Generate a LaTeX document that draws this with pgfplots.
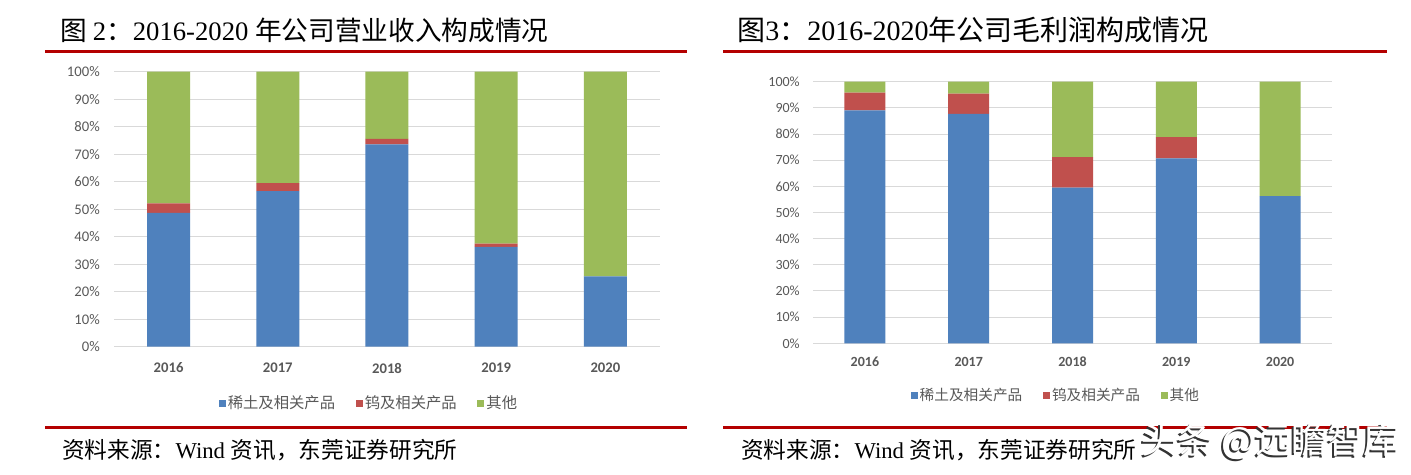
\documentclass[border=0pt]{standalone}
\usepackage{pgfplots}
\pgfplotsset{compat=1.18}
\usepackage{fontspec}
\setmainfont{Liberation Serif}
\newfontfamily\cjk{Noto Sans CJK SC}
\newfontfamily\calfont{Carlito}
\definecolor{cblue}{HTML}{4F81BD}
\definecolor{cred}{HTML}{C0504D}
\definecolor{cgreen}{HTML}{9BBB59}
\definecolor{lbl}{HTML}{595959}
\definecolor{grd}{HTML}{D9D9D9}
\definecolor{dred}{HTML}{B40000}
\pgfplotsset{
  common/.style={
    scale only axis, anchor=south west,
    ybar stacked,
    xmin=-0.5, xmax=4.5, ymin=0, ymax=100,
    enlargelimits=false,
    xtick={0,1,2,3,4}, xticklabels={2016,2017,2018,2019,2020},
    ytick={0,10,20,30,40,50,60,70,80,90,100},
    yticklabels={0\%,10\%,20\%,30\%,40\%,50\%,60\%,70\%,80\%,90\%,100\%},
    axis line style={draw=none}, major tick length=0pt,
    ymajorgrids, grid style={grd, line width=0.75pt},
    legend columns=3,
    legend image code/.code={\fill[##1,draw=none] (0pt,-2.6pt) rectangle (5.25pt,2.6pt);},
  }
}
\begin{document}
\begin{tikzpicture}[x=0.75pt,y=0.75pt]
\fill[white] (0,0) rectangle (1411,475);
% titles
\node[anchor=west, inner sep=0pt] at (60,445) {\fontsize{20pt}{20pt}\selectfont\cjk 图\ \rmfamily 2\cjk ：\rmfamily 2016-2020 \cjk 年公司营业收入构成情况};
\node[anchor=west, inner sep=0pt] at (737,445) {\fontsize{21pt}{21pt}\selectfont\cjk 图\rmfamily 3\cjk ：\rmfamily 2016-2020\cjk 年公司毛利润构成情况};
\draw[dred, line width=2.25pt] (45,423) -- (687,423);
\draw[dred, line width=2.25pt] (723,423) -- (1387,423);
\draw[dred, line width=2.25pt] (45,47) -- (687,47);
\draw[dred, line width=2.25pt] (723,47) -- (1387,47);
\node[anchor=west, inner sep=0pt] at (62,25) {\fontsize{17pt}{17pt}\selectfont\cjk 资料来源：\rmfamily Wind \cjk 资讯，东莞证券研究所};
\node[anchor=west, inner sep=0pt] at (741,25) {\fontsize{17pt}{17pt}\selectfont\cjk 资料来源：\rmfamily Wind \cjk 资讯，东莞证券研究所};

\begin{axis}[common,
  at={(85.5pt,96.225pt)},
  width=409.5pt, height=206.25pt,
  bar width=32.25pt,
  yticklabel style={font=\fontsize{11pt}{11pt}\selectfont\calfont, text=lbl, anchor=east, inner sep=0pt, xshift=-10.5pt},
  xticklabel style={font=\fontsize{11pt}{11pt}\selectfont\calfont\bfseries, text=lbl, anchor=north, inner sep=0pt, yshift=-12pt},
  legend style={draw=none, at={(0.467,-0.205)}, anchor=center,
    font=\fontsize{11.5pt}{11.5pt}\selectfont\cjk, text=lbl,
    /tikz/every even column/.append style={column sep=14pt},
    nodes={inner sep=1.5pt}},
]
\addplot[fill=cblue, draw=none] coordinates {(0,48.7) (1,56.6) (2,73.6) (3,36.3) (4,25.6)};
\addplot[fill=cred, draw=none] coordinates {(0,3.4) (1,2.9) (2,2.0) (3,1.2) (4,0)};
\addplot[fill=cgreen, draw=none] coordinates {(0,47.9) (1,40.5) (2,24.4) (3,62.5) (4,74.4)};
\legend{稀土及相关产品, 钨及相关产品, 其他}
\end{axis}

\begin{axis}[common,
  at={(609.75pt,98.775pt)},
  width=389.25pt, height=196.2pt,
  bar width=30.75pt,
  yticklabel style={font=\fontsize{10.5pt}{10.5pt}\selectfont\calfont, text=lbl, anchor=east, inner sep=0pt, xshift=-9.75pt},
  xticklabel style={font=\fontsize{10.5pt}{10.5pt}\selectfont\calfont\bfseries, text=lbl, anchor=north, inner sep=0pt, yshift=-10.3pt},
  legend style={draw=none, at={(0.468,-0.198)}, anchor=center,
    font=\fontsize{11pt}{11pt}\selectfont\cjk, text=lbl,
    /tikz/every even column/.append style={column sep=14pt},
    nodes={inner sep=1.5pt}},
]
\addplot[fill=cblue, draw=none] coordinates {(0,89.0) (1,87.7) (2,59.5) (3,70.7) (4,56.3)};
\addplot[fill=cred, draw=none] coordinates {(0,6.8) (1,7.7) (2,11.7) (3,8.1) (4,0)};
\addplot[fill=cgreen, draw=none] coordinates {(0,4.2) (1,4.6) (2,28.8) (3,21.2) (4,43.7)};
\legend{稀土及相关产品, 钨及相关产品, 其他}
\end{axis}

% watermark
\node[anchor=west, inner sep=0pt, text=black!80] at (1139.5,32) {\fontsize{27pt}{27pt}\selectfont\cjk 头条 @远瞻智库};
\node[anchor=west, inner sep=0pt, text=white] at (1141,33.5) {\fontsize{27pt}{27pt}\selectfont\cjk 头条 @远瞻智库};
\end{tikzpicture}
\end{document}
